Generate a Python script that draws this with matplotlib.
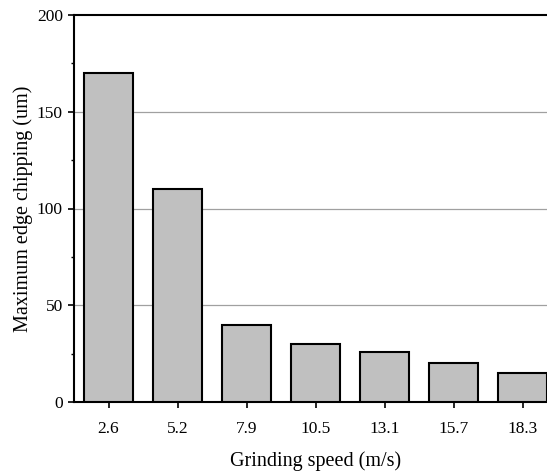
import matplotlib
matplotlib.use("Agg")
import matplotlib.pyplot as plt
from matplotlib.ticker import MultipleLocator

categories = ["2.6", "5.2", "7.9", "10.5", "13.1", "15.7", "18.3"]
values = [170, 110, 40, 30, 26, 20, 15]

plt.rcParams['font.family'] = ['Liberation Serif', 'DejaVu Serif']

fig = plt.figure(figsize=(5.47, 4.71), dpi=100)
ax = fig.add_axes([74/547, 1-402/471, (557-74)/547, (402-15)/471])

x = list(range(len(categories)))
ax.bar(x, values, width=0.71, color="#c0c0c0", edgecolor="black", linewidth=1.5, zorder=3)

ax.set_xlim(-0.5, 6.5)
ax.set_ylim(0, 200)
ax.set_xticks(x)
ax.set_xticklabels(categories)
ax.yaxis.set_major_locator(MultipleLocator(50))
ax.yaxis.set_minor_locator(MultipleLocator(25))

for yv in [50, 100, 150]:
    ax.axhline(yv, color="#a0a0a0", linewidth=0.9, zorder=1)

ax.spines['right'].set_visible(False)
for s in ['left', 'bottom', 'top']:
    ax.spines[s].set_linewidth(1.5)

ax.tick_params(axis='both', which='major', direction='out', length=4, width=1.2, labelsize=12.5, pad=4)
ax.tick_params(axis='y', which='minor', direction='out', length=2.5, width=1.0)
ax.tick_params(axis='x', which='major', pad=10)

ax.set_xlabel("Grinding speed (m/s)", fontsize=14.5, labelpad=10)
ax.set_ylabel("Maximum edge chipping (um)", fontsize=14.5, labelpad=3)

fig.savefig("out.png", dpi=100)
